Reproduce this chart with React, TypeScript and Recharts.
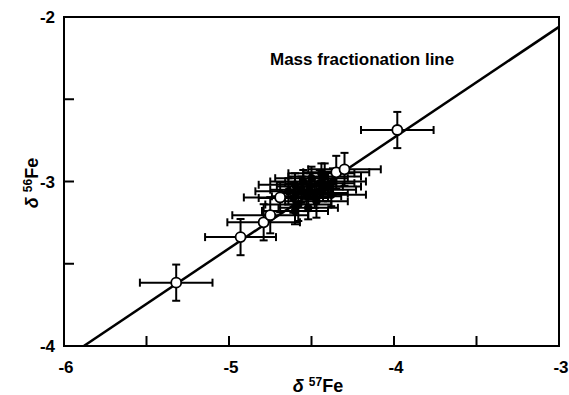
import React from "react";
import {
  ScatterChart,
  Scatter,
  XAxis,
  YAxis,
  ErrorBar,
  ReferenceArea,
  Customized,
} from "recharts";

// axis ticks
const xTicks = [-6, -5.5, -5, -4.5, -4, -3.5, -3];
const yTicks = [-4, -3.5, -3, -2.5, -2];

// mass fractionation line end points
const lineX = [-5.88, -3];
const lineY = [-4, -2.06];

// clearly visible open symbols
const openX = [-5.32, -4.93, -4.79, -4.75, -4.69, -4.35, -4.3, -3.98];
const openY = [-3.615, -3.338, -3.248, -3.205, -3.097, -2.944, -2.926, -2.687];
const openXErr = [0.22, 0.215, 0.22, 0.23, 0.22, 0.2, 0.22, 0.22];
const openYErr = [0.11, 0.11, 0.11, 0.11, 0.09, 0.1, 0.1, 0.11];

// crowded points in the middle
const clusterX = [-4.64, -4.61, -4.6, -4.58, -4.56, -4.55, -4.53, -4.51, -4.5, -4.48, -4.47, -4.45, -4.43, -4.42, -4.4, -4.38, -4.37, -4.6, -4.52, -4.44];
const clusterY = [-3.06, -3.1, -3.02, -3.14, -3.05, -3.0, -3.09, -3.03, -2.98, -3.07, -3.12, -3.01, -3.05, -2.97, -3.03, -3.08, -3.0, -3.18, -3.16, -2.95];
const clusterXErr = [0.2, 0.21, 0.22, 0.2, 0.19, 0.2, 0.21, 0.2, 0.22, 0.2, 0.19, 0.21, 0.2, 0.22, 0.2, 0.21, 0.2, 0.2, 0.18, 0.2];
const clusterYErr = [0.08, 0.09, 0.07, 0.1, 0.08, 0.07, 0.09, 0.08, 0.07, 0.09, 0.1, 0.08, 0.07, 0.08, 0.09, 0.07, 0.08, 0.08, 0.07, 0.06];

const lineData = lineX.map((x, i) => ({ x, y: lineY[i] }));
const openData = openX.map((x, i) => ({ x, y: openY[i], ex: openXErr[i], ey: openYErr[i] }));
const clusterData = clusterX.map((x, i) => ({ x, y: clusterY[i], ex: clusterXErr[i], ey: clusterYErr[i] }));

const FONT = "Arial, 'Liberation Sans', sans-serif";
const PLOT_LEFT = 64;
const PLOT_BOTTOM = 346;

const XTick = (props: any) => {
  const { x, payload } = props;
  const v = payload.value;
  const inner = v > -6 && v < -3;
  return (
    <g>
      {inner && (
        <line x1={x} x2={x} y1={PLOT_BOTTOM} y2={PLOT_BOTTOM - 10} stroke="#000" strokeWidth={2} />
      )}
      {Number.isInteger(v) && (
        <text x={x + 2} y={373} textAnchor="middle" fontFamily={FONT} fontWeight="bold" fontSize={17} fill="#000">
          {v}
        </text>
      )}
    </g>
  );
};

const YTick = (props: any) => {
  const { y, payload } = props;
  const v = payload.value;
  const inner = v > -4 && v < -2;
  return (
    <g>
      {inner && (
        <line x1={PLOT_LEFT} x2={PLOT_LEFT + 10} y1={y} y2={y} stroke="#000" strokeWidth={2} />
      )}
      {Number.isInteger(v) && (
        <text x={55} y={y + 6} textAnchor="end" fontFamily={FONT} fontWeight="bold" fontSize={17} fill="#000">
          {v}
        </text>
      )}
    </g>
  );
};

const Texts = () => (
  <g fontFamily={FONT} fontWeight="bold" fill="#000">
    <text x={270} y={65} fontSize={17}>Mass fractionation line</text>
    <text x={318} y={392} fontSize={18} textAnchor="middle">
      <tspan fontStyle="italic">δ</tspan>
      <tspan dx={5} dy={-6} fontSize={12}>57</tspan>
      <tspan dy={6}>Fe</tspan>
    </text>
    <text x={38} y={183} fontSize={18} textAnchor="middle" transform="rotate(-90 38 183)">
      <tspan fontStyle="italic">δ</tspan>
      <tspan dx={5} dy={-6} fontSize={12}>56</tspan>
      <tspan dy={6}>Fe</tspan>
    </text>
  </g>
);

const OpenDot = (props: any) => (
  <circle cx={props.cx} cy={props.cy} r={5} fill="#fff" stroke="#000" strokeWidth={1.8} />
);
const FilledDot = (props: any) => (
  <circle cx={props.cx} cy={props.cy} r={3.5} fill="#000" stroke="#000" strokeWidth={1.5} />
);
const NoDot = () => <g />;

export default function App() {
  return (
    <div style={{ position: "absolute", left: 0, top: 0, background: "#fff" }}>
      <ScatterChart width={569} height={395} margin={{ top: 17, right: 10, bottom: 9, left: 14 }}>
        <XAxis
          type="number"
          dataKey="x"
          domain={[-6, -3]}
          ticks={xTicks}
          interval={0}
          axisLine={false}
          tickLine={false}
          tick={XTick}
          height={40}
          allowDataOverflow
        />
        <YAxis
          type="number"
          dataKey="y"
          domain={[-4, -2]}
          ticks={yTicks}
          interval={0}
          axisLine={false}
          tickLine={false}
          tick={YTick}
          width={50}
          allowDataOverflow
        />
        <ReferenceArea x1={-6} x2={-3} y1={-4} y2={-2} fill="none" fillOpacity={0} stroke="#000" strokeWidth={2} />
        <Scatter
          data={lineData}
          line={{ stroke: "#000", strokeWidth: 2.5 }}
          shape={NoDot}
          isAnimationActive={false}
        />
        <Scatter data={clusterData} shape={FilledDot} isAnimationActive={false}>
          <ErrorBar dataKey="ex" direction="x" width={4} stroke="#000" strokeWidth={2} />
          <ErrorBar dataKey="ey" direction="y" width={4} stroke="#000" strokeWidth={2} />
        </Scatter>
        <Scatter data={openData} shape={OpenDot} isAnimationActive={false}>
          <ErrorBar dataKey="ex" direction="x" width={4} stroke="#000" strokeWidth={2} />
          <ErrorBar dataKey="ey" direction="y" width={4} stroke="#000" strokeWidth={2} />
        </Scatter>
        <Customized component={Texts} />
      </ScatterChart>
    </div>
  );
}
